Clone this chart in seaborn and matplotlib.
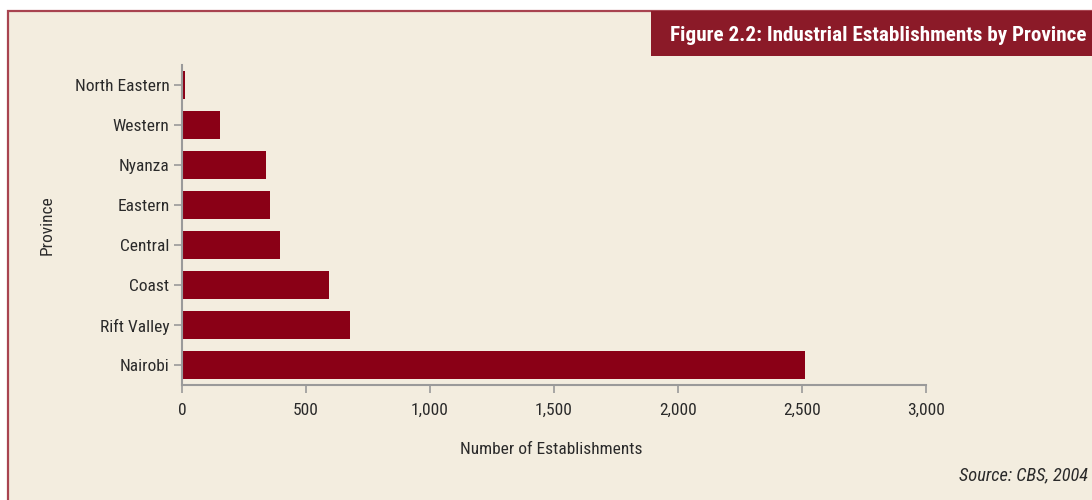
import matplotlib
matplotlib.use("Agg")
import matplotlib.pyplot as plt
import seaborn as sns
import pandas as pd
from matplotlib.patches import Rectangle

provinces = ["North Eastern", "Western", "Nyanza", "Eastern", "Central", "Coast", "Rift Valley", "Nairobi"]
establishments = [12, 153, 339, 355, 395, 593, 677, 2512]
xticks = [0, 500, 1000, 1500, 2000, 2500, 3000]
xtick_labels = ["0", "500", "1,000", "1,500", "2,000", "2,500", "3,000"]

title = "Figure 2.2: Industrial Establishments by Province"
source = "Source: CBS, 2004"

sns.set_theme(style="white")
plt.rcParams['font.family'] = ['Roboto Condensed', 'Liberation Sans Narrow', 'DejaVu Sans']
plt.rcParams['font.stretch'] = 'condensed'

bg = "#F3EDDF"
bar_color = "#8A0016"
box_color = "#8B1A28"
axis_gray = "#9A9A9A"
text_col = "#2A2A2A"

fig = plt.figure(figsize=(10.92, 5.0), dpi=100)
fig.patch.set_facecolor("white")

W, H = 1092, 500
panel = Rectangle((8 / W, -0.01), 1.1, 1 - 11 / H + 0.01, transform=fig.transFigure,
                  facecolor=bg, edgecolor="#A84450", linewidth=1.6, zorder=-2)
fig.add_artist(panel)
tbox = Rectangle((651 / W, 1 - 56 / H), 1.0, 45 / H, transform=fig.transFigure,
                 facecolor=box_color, edgecolor="none", zorder=-1)
fig.add_artist(tbox)
fig.text(1087 / W, 1 - 35 / H, title, ha="right", va="center", color="white",
         fontsize=15.2, fontweight="bold")
fig.text(1088 / W, 1 - 475 / H, source, ha="right", va="center", color=text_col,
         fontsize=13.2, style="italic")

ax = fig.add_axes([182 / W, 1 - 385 / H, (926 - 182) / W, (385 - 65) / H])
ax.set_zorder(2)
ax.set_facecolor("none")

df = pd.DataFrame({"Province": provinces, "Establishments": establishments})
sns.barplot(data=df, y="Province", x="Establishments", orient="h", color=bar_color,
            saturation=1, width=0.7, ax=ax, order=provinces, linewidth=0, edgecolor="none")

ax.set_xlim(0, 3000)
ax.set_ylim(len(provinces) - 0.5, -0.5)
ax.set_xticks(xticks)
ax.set_xticklabels(xtick_labels)
ax.set_xlabel("Number of Establishments", fontsize=12.5, color=text_col)
ax.set_ylabel("Province", fontsize=12.5, color=text_col)
ax.xaxis.set_label_coords((551 - 182) / 744, -(449 - 385) / 320)
ax.yaxis.set_label_coords((47 - 182) / 744, 0.5)
ax.xaxis.label.set_va("center")
ax.yaxis.label.set_va("center")

for s in ["top", "right"]:
    ax.spines[s].set_visible(False)
for s in ["left", "bottom"]:
    ax.spines[s].set_color(axis_gray)
    ax.spines[s].set_linewidth(1.5)
ax.tick_params(axis="both", which="both", bottom=True, left=True, length=6, width=1.2,
               color=axis_gray, labelcolor=text_col, labelsize=12.5, direction="out")
ax.tick_params(axis="x", pad=7)
ax.tick_params(axis="y", pad=3)

fig.savefig("out.png", dpi=100, facecolor=fig.get_facecolor())
